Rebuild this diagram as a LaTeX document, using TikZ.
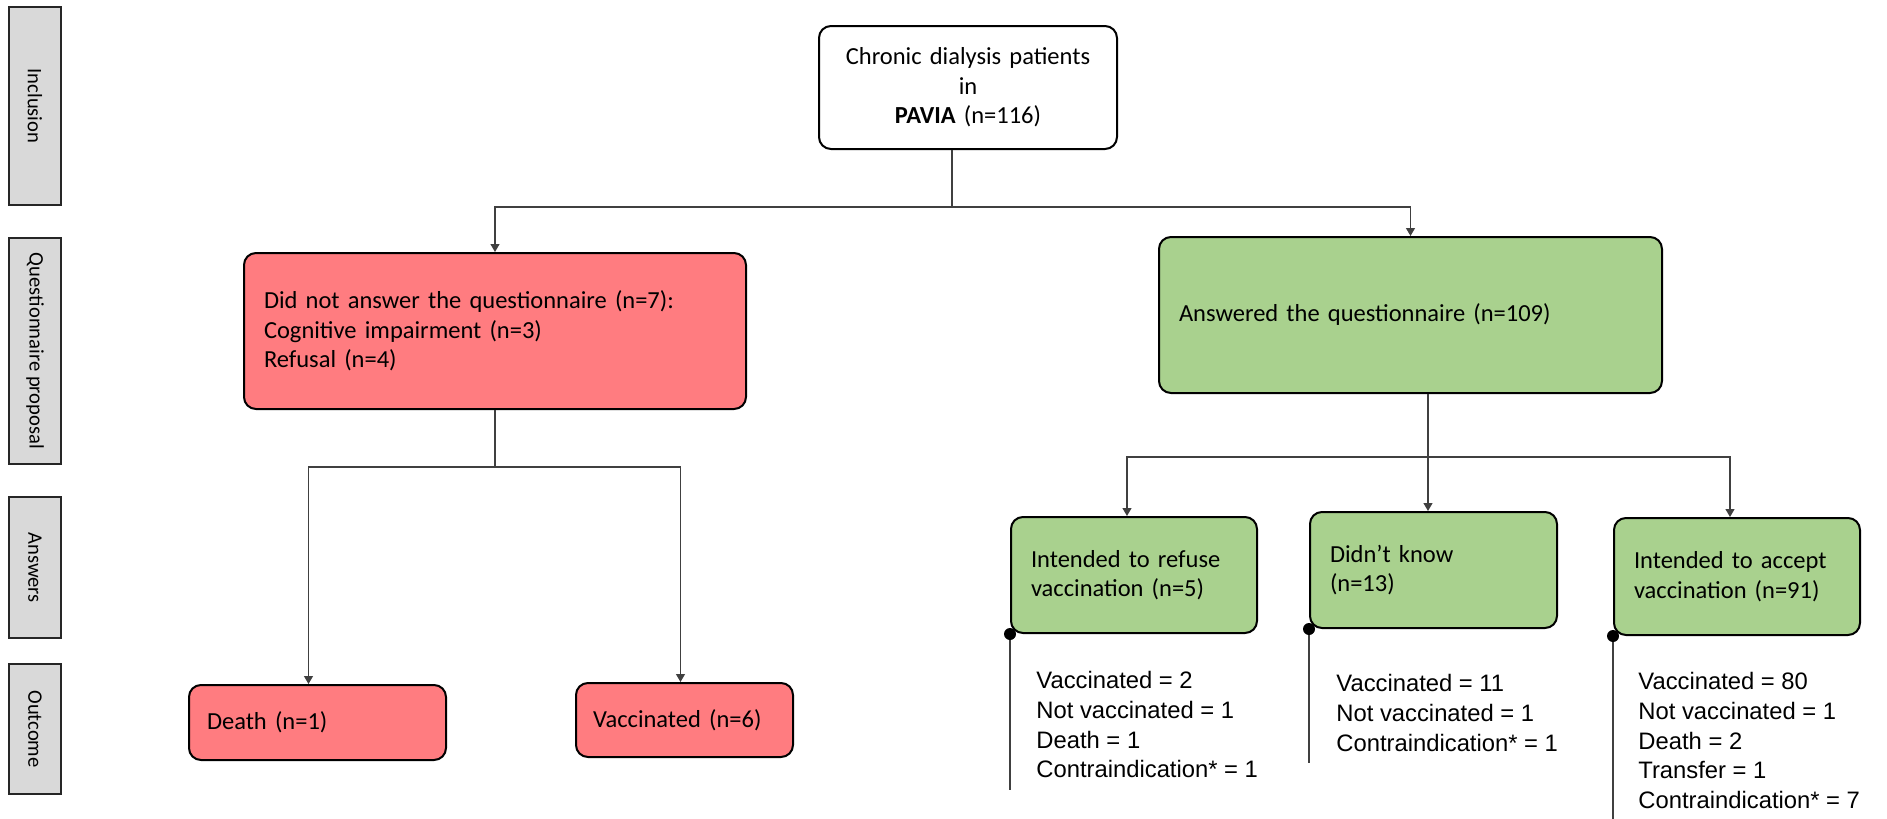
\documentclass[tikz,border=0pt]{standalone}
\usepackage{fontspec}
\setmainfont{Carlito}
\newfontfamily\listfont{Liberation Sans}
\usetikzlibrary{positioning,arrows.meta}

\definecolor{redfill}{HTML}{FF7C80}
\definecolor{greenfill}{HTML}{A9D18E}
\definecolor{sidefill}{HTML}{D9D9D9}

\begin{document}
\begin{tikzpicture}[x=0.5pt, y=-0.5pt,
                    >={Triangle[length=4pt,width=4.5pt]},
                    sidenode/.style={draw=black!85, fill=sidefill, line width=1.2pt, rotate=-90, minimum height=26pt, inner sep=0pt, font=\fontsize{10.3}{12}\selectfont},
                    boxnode/.style={draw=black, line width=1pt, rounded corners=6pt, inner xsep=10pt, align=left, font=\fontsize{12.25}{14.8}\selectfont},
                    startnode/.style={boxnode, fill=white, align=center, text width=129pt, minimum height=61.5pt},
                    rednode/.style={boxnode, fill=redfill},
                    greennode/.style={boxnode, fill=greenfill},
                    listnode/.style={anchor=north west, inner sep=0pt, align=left, font=\listfont\fontsize{11.9}{14.85}\selectfont},
                    conn/.style={draw=black!75, line width=0.6pt},
                ]
                    \useasboundingbox (0,0) rectangle (1887,819);

                    %Nodes
                    \node[sidenode, minimum width=99pt](incl) at (35,106) {Inclusion};
                    \node[sidenode, minimum width=113pt](quest) at (35,351) {Questionnaire proposal};
                    \node[sidenode, minimum width=70.5pt](answ) at (35,567.5) {Answers};
                    \node[sidenode, minimum width=65pt](outc) at (35,729) {Outcome};

                    \node[startnode](patients) at (968,87.5) {Chronic dialysis patients\\in\\\textbf{PAVIA} (n=116)};
                    \node[rednode, text width=231pt, minimum height=78pt](noanswer) at (495,331) {Did not answer the questionnaire (n=7):\\Cognitive impairment (n=3)\\Refusal (n=4)};
                    \node[greennode, text width=231.5pt, minimum height=78pt](answered) at (1410.5,315) {Answered the questionnaire (n=109)};

                    \node[rednode, inner xsep=9pt, text width=110.5pt, minimum height=37.5pt](death) at (317.5,722.5) {Death (n=1)};
                    \node[rednode, inner xsep=8.5pt, text width=91.5pt, minimum height=37pt](vacc) at (684.5,720) {Vaccinated (n=6)};

                    \node[greennode, text width=103pt, minimum height=58pt](refuse) at (1134,575) {Intended to refuse\\vaccination (n=5)};
                    \node[greennode, text width=103.5pt, minimum height=58pt](dontknow) at (1433.5,570) {Didn’t know\\(n=13)};
                    \node[greennode, text width=103pt, minimum height=58.5pt](accept) at (1737,576.5) {Intended to accept\\vaccination (n=91)};

                    \node[listnode](refuselist) at (1036,671) {Vaccinated = 2\\Not vaccinated = 1\\Death = 1\\Contraindication* = 1};
                    \node[listnode](dontknowlist) at (1336,674) {Vaccinated = 11\\Not vaccinated = 1\\Contraindication* = 1};
                    \node[listnode](acceptlist) at (1638,672) {Vaccinated = 80\\Not vaccinated = 1\\Death = 2\\Transfer = 1\\Contraindication* = 7};

                    \coordinate (split1) at (952,207);
                    \coordinate (split2) at (495,467);
                    \coordinate (split3) at (1428,457);
                    \coordinate (refuseend) at (1011,790);
                    \coordinate (dontknowend) at (1311,763);
                    \coordinate (acceptend) at (1613,819);

                    %Lines
                    \draw[conn](patients.south -| split1) -- (split1);
                    \draw[conn, ->](split1) -| (noanswer.north);
                    \draw[conn, ->](split1) -| (answered.north);

                    \draw[conn](noanswer.south) -- (split2);
                    \draw[conn, ->](split2) -| ([xshift=-4.5pt]death.north);
                    \draw[conn, ->](split2) -| ([xshift=-2pt]vacc.north);

                    \draw[conn](answered.south -| split3) -- (split3);
                    \draw[conn, ->](split3) -| ([xshift=-3.5pt]refuse.north);
                    \draw[conn, ->](split3) -- (split3 |- dontknow.north);
                    \draw[conn, ->](split3) -| ([xshift=-3.5pt]accept.north);

                    %Dots
                    \draw[conn](refuse.south west) -- (refuse.south west |- refuseend);
                    \draw[conn](dontknow.south west) -- (dontknow.south west |- dontknowend);
                    \draw[conn](accept.south west) -- (accept.south west |- acceptend);
                    \fill (refuse.south west) circle (3pt);
                    \fill (dontknow.south west) circle (3pt);
                    \fill (accept.south west) circle (3pt);
                \end{tikzpicture}
\end{document}
